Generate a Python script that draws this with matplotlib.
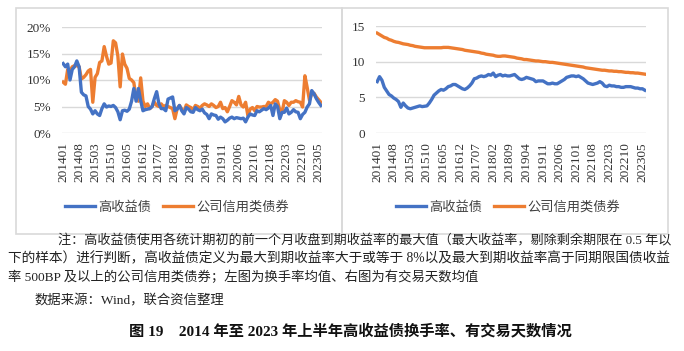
import matplotlib.pyplot as plt
from matplotlib.patches import Rectangle
from matplotlib.lines import Line2D

# monthly categories 201401 .. 202306
months = [f"{y}{m:02d}" for y in range(2014, 2024) for m in range(1, 13)][:114]

# left panel: turnover rate (%)
hy_turnover = [
    13.1, 12.5, 13.0, 10.0, 12.0, 12.5, 13.6, 12.5, 7.7, 7.2,
    7.0, 5.0, 4.5, 3.6, 4.2, 3.6, 3.3, 4.6, 5.5, 4.9,
    5.1, 5.0, 5.2, 4.8, 4.0, 2.5, 4.2, 4.3, 4.1, 4.5,
    6.0, 8.4, 6.0, 8.4, 6.1, 4.2, 4.4, 4.5, 4.6, 5.0,
    6.5, 7.8, 5.5, 4.6, 4.6, 4.2, 6.4, 6.6, 6.8, 4.2,
    4.5, 5.2, 4.2, 3.6, 4.8, 4.5, 4.0, 3.9, 4.8, 4.4,
    4.2, 4.5, 3.8, 3.5, 2.7, 3.6, 3.4, 3.3, 2.6, 3.0,
    2.7, 2.1, 2.4, 2.8, 3.0, 2.7, 2.9, 2.8, 2.7, 2.8,
    2.1, 3.0, 3.6, 3.4, 3.3, 4.2, 4.0, 4.3, 4.6, 4.4,
    4.7, 5.2, 3.3, 5.5, 5.0, 2.7, 3.9, 3.9, 4.7, 3.6,
    3.9, 4.4, 4.0, 3.9, 2.7, 3.5, 3.9, 4.9, 5.5, 8.0,
    7.4, 6.5, 5.8, 5.2,
]
cb_turnover = [
    9.6, 9.2, 12.0, 11.7, 12.5, 12.7, 12.7, 12.5, 10.2, 10.5,
    11.0, 11.7, 12.0, 5.8, 10.5, 11.2, 13.3, 13.6, 16.3, 14.5,
    13.0, 13.2, 17.4, 17.0, 14.5, 8.7, 14.9, 13.0, 12.2, 10.3,
    10.0, 9.5, 6.5, 6.0, 10.4, 6.0, 5.0, 5.5, 4.6, 5.0,
    5.8, 5.2, 5.0, 5.5, 5.0, 5.2, 5.0, 4.8, 4.6, 2.7,
    4.6, 5.2, 4.5, 4.0, 5.3, 5.0, 4.8, 4.4, 5.2, 5.0,
    4.7, 5.2, 5.5, 5.3, 5.0, 5.5, 5.2, 4.8, 5.0, 5.8,
    4.6, 4.8, 4.0, 5.0, 6.1, 5.8, 5.3, 6.9, 5.3, 4.9,
    5.8, 3.3, 4.5, 4.8, 4.2, 5.0, 4.9, 4.9, 5.0, 5.0,
    5.8, 5.5, 5.8, 6.3, 6.0, 4.3, 3.9, 6.1, 5.8, 5.2,
    5.8, 5.8, 6.1, 5.9, 5.8, 4.9, 10.8, 8.6, 6.2, 7.4,
    7.5, 6.8, 6.3, 5.8,
]

# right panel: average trading days
hy_days = [
    7.2, 7.9, 7.4, 6.4, 5.9, 5.4, 5.2, 4.9, 4.7, 4.4,
    3.6, 4.2, 3.8, 3.5, 3.4, 3.5, 3.6, 3.7, 3.8, 3.7,
    3.75, 3.8, 4.2, 4.7, 5.3, 5.6, 5.9, 6.1, 6.0, 6.2,
    6.5, 6.6, 6.8, 6.8, 6.6, 6.4, 6.2, 6.1, 6.3, 6.6,
    7.0, 7.6, 7.7, 7.9, 8.0, 7.9, 8.0, 8.2, 8.1, 8.4,
    7.9, 8.1, 8.2, 8.0, 8.1, 8.0, 8.0, 8.1, 8.2, 7.9,
    7.6, 7.5, 7.6, 7.8, 7.7, 7.6, 7.5, 7.2, 7.3, 7.3,
    7.3, 7.1, 6.9, 6.9, 7.0, 6.9, 6.9, 7.1, 7.3, 7.5,
    7.8, 7.9, 8.0, 8.0, 7.9, 8.0, 7.8, 7.6, 7.3, 7.0,
    6.9, 6.8, 6.9, 7.0, 7.2, 7.0, 6.6, 6.5, 6.7, 6.6,
    6.6, 6.5, 6.5, 6.4, 6.4, 6.5, 6.5, 6.5, 6.4, 6.3,
    6.3, 6.2, 6.2, 6.0,
]
cb_days = [
    14.0, 13.8, 13.6, 13.4, 13.3, 13.1, 13.0, 12.85, 12.75, 12.7,
    12.6, 12.5, 12.45, 12.4, 12.3, 12.25, 12.15, 12.1, 12.05, 12.0,
    11.95, 11.95, 11.95, 11.95, 11.95, 11.95, 11.95, 11.95, 12.0, 12.0,
    12.0, 11.95, 11.9, 11.85, 11.8, 11.75, 11.7, 11.6, 11.55, 11.5,
    11.45, 11.4, 11.35, 11.3, 11.2, 11.15, 11.05, 11.0, 10.95, 10.9,
    10.8, 10.75, 10.75, 10.8, 10.8, 10.75, 10.7, 10.65, 10.6, 10.5,
    10.45, 10.4, 10.3, 10.3, 10.25, 10.2, 10.15, 10.1, 10.1, 10.05,
    10.0, 10.0, 9.95, 9.9, 9.9, 9.85, 9.8, 9.75, 9.7, 9.65,
    9.6, 9.55, 9.5, 9.45, 9.4, 9.35, 9.3, 9.25, 9.15, 9.1,
    9.05, 9.0, 8.95, 8.9, 8.85, 8.8, 8.8, 8.75, 8.7, 8.7,
    8.65, 8.65, 8.6, 8.6, 8.55, 8.5, 8.5, 8.45, 8.45, 8.4,
    8.4, 8.35, 8.3, 8.25,
]

series_names = ["高收益债", "公司信用类债券"]
BLUE = "#4472C4"
ORANGE = "#ED7D31"
GRID = "#d9d9d9"

serif = ["Liberation Serif", "Noto Sans CJK SC"]
sans = ["Noto Sans CJK SC", "DejaVu Sans"]
plt.rcParams["font.family"] = serif

W, H = 684, 351
fig = plt.figure(figsize=(W / 100, H / 100), dpi=100)


def fx(px):
    return px / W


def fy(py):
    return 1 - py / H


# panel frames
for x0, x1 in [(16, 342), (342, 668)]:
    fig.add_artist(Rectangle((fx(x0), fy(234)), fx(x1 - x0), 226 / H,
                             transform=fig.transFigure, fill=False,
                             edgecolor=GRID, lw=1.2))

ax1 = fig.add_axes([fx(62), fy(133), fx(260), 106 / H])
ax2 = fig.add_axes([fx(376), fy(133), fx(270), 107 / H])

x = list(range(len(months)))
ticks = x[::7]

for ax, a, b, top, step in [(ax1, hy_turnover, cb_turnover, 20, 5),
                            (ax2, hy_days, cb_days, 15, 5)]:
    ax.plot(x, b, color=ORANGE, lw=2.4, solid_joinstyle="round")
    ax.plot(x, a, color=BLUE, lw=2.4, solid_joinstyle="round")
    ax.set_xlim(-0.5, len(months) - 0.5)
    ax.set_ylim(0, top)
    ax.set_yticks(range(0, top + 1, step))
    ax.set_xticks(ticks)
    ax.set_xticklabels([months[i] for i in ticks], rotation=90)
    ax.grid(axis="y", color=GRID, lw=1)
    ax.set_axisbelow(True)
    for s in ax.spines.values():
        s.set_visible(False)
    ax.tick_params(length=0, labelsize=9.5, colors="#333333")
    ax.tick_params(axis="y", pad=8)
    ax.tick_params(axis="x", pad=6.5)
    ax.set_facecolor("none")

ax1.set_yticklabels([f"{v}%" for v in range(0, 21, 5)])

handles = [Line2D([], [], color=BLUE, lw=2.4),
           Line2D([], [], color=ORANGE, lw=2.4)]
for cx in (177, 508):
    fig.legend(handles, series_names, loc="center", ncol=2,
               bbox_to_anchor=(fx(cx), fy(207)), frameon=False,
               prop={"family": sans, "size": 9.5}, handlelength=2.3,
               handletextpad=0.25, columnspacing=0.9, labelcolor="#404040")

note_kw = dict(color="#222222", va="center", ha="left")
fig.text(fx(58), fy(241), "注：高收益债使用各统计期初的前一个月收盘到期收益率的最大值（最大收益率，剔除剩余期限在 0.5 年以",
         fontsize=9.45, **note_kw)
fig.text(fx(8), fy(259), "下的样本）进行判断，高收益债定义为最大到期收益率大于或等于 8%以及最大到期收益率高于同期限国债收益",
         fontsize=9.85, **note_kw)
fig.text(fx(8), fy(277), "率 500BP 及以上的公司信用类债券；左图为换手率均值、右图为有交易天数均值",
         fontsize=9.6, **note_kw)
fig.text(fx(35), fy(301), "数据来源：Wind，联合资信整理", fontsize=9.6, **note_kw)
fig.text(fx(350), fy(331), "图 19    2014 年至 2023 年上半年高收益债换手率、有交易天数情况",
         fontsize=11, fontweight="bold", ha="center", va="center", color="#111111")

fig.savefig("out.png", dpi=100)
